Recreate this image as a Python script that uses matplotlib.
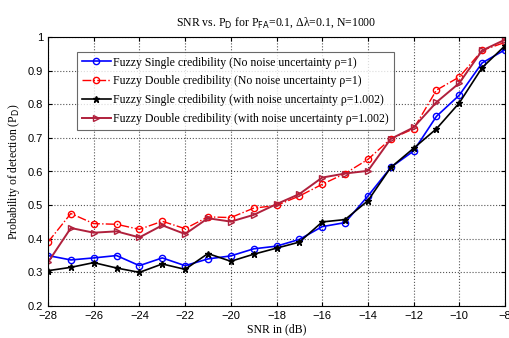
import numpy as np
import matplotlib
matplotlib.use("Agg")
import matplotlib.pyplot as plt

snr = list(range(-28, -7))

single_no_noise = [0.350, 0.337, 0.343, 0.350, 0.320, 0.343, 0.320, 0.340, 0.349, 0.370, 0.378,
                   0.398, 0.436, 0.448, 0.527, 0.612, 0.661, 0.764, 0.827, 0.923, 0.962]
double_no_noise = [0.390, 0.475, 0.445, 0.443, 0.428, 0.452, 0.430, 0.465, 0.463, 0.491, 0.499,
                   0.527, 0.562, 0.594, 0.636, 0.697, 0.727, 0.842, 0.881, 0.960, 0.984]
single_noise = [0.305, 0.315, 0.329, 0.313, 0.300, 0.325, 0.309, 0.356, 0.333, 0.354, 0.372,
                0.390, 0.450, 0.457, 0.513, 0.612, 0.669, 0.727, 0.804, 0.909, 0.974]
double_noise = [0.330, 0.432, 0.418, 0.422, 0.404, 0.440, 0.414, 0.461, 0.451, 0.471, 0.503,
                0.533, 0.582, 0.594, 0.602, 0.697, 0.731, 0.806, 0.863, 0.960, 0.992]

labels = ["Fuzzy Single credibility (No noise uncertainty \u03c1=1)",
          "Fuzzy Double credibility (No noise uncertainty \u03c1=1)",
          "Fuzzy Single credibility (with noise uncertainty \u03c1=1.002)",
          "Fuzzy Double credibility (with noise uncertainty \u03c1=1.002)"]

serif = ["Liberation Serif", "DejaVu Serif"]

fig = plt.figure(figsize=(5.10, 3.38), dpi=100)
ax = fig.add_axes([48 / 510, 1 - 306 / 338, 457 / 510, 269 / 338])

ax.plot(snr, single_no_noise, color="#0000ff", marker="o", mfc="none", ms=4.5, lw=1.2, label=labels[0])
ax.plot(snr, double_no_noise, color="#ff0000", ls="-.", marker="o", mfc="none", ms=4.5, lw=1.0, label=labels[1])
ax.plot(snr, single_noise, color="black", marker="*", ms=5, lw=1.2, label=labels[2])
ax.plot(snr, double_noise, color="#b0203c", marker=">", mfc="none", ms=5, lw=1.4, label=labels[3])

ax.set_xlim(-28, -8)
ax.set_ylim(0.2, 1.0)
ax.set_xticks(range(-28, -7, 2))
ax.set_yticks(np.arange(0.2, 1.01, 0.1))
ax.set_yticklabels(["0.2", "0.3", "0.4", "0.5", "0.6", "0.7", "0.8", "0.9", "1"])
ax.grid(True, ls=":", color="#555555", lw=0.8)
ax.tick_params(direction="in", labelsize=8, length=3, top=True, right=True)
for t in ax.get_xticklabels() + ax.get_yticklabels():
    t.set_family(["Liberation Sans", "DejaVu Sans"])

ax.set_title("SNR vs. P$_\\mathrm{D}$ for P$_\\mathrm{FA}$=0.1, \u0394\u03bb=0.1, N=1000",
             fontsize=8.5, family=serif, pad=8)
ax.set_xlabel("SNR in (dB)", fontsize=8.5, family=serif, labelpad=2)
ax.set_ylabel("Probability of detection (P$_\\mathrm{D}$)", fontsize=8.5, family=serif, labelpad=4)

leg = ax.legend(loc="upper left", bbox_to_anchor=(0.063, 0.945), prop={"family": serif, "size": 8.5},
                frameon=True, fancybox=False, edgecolor="#444444", borderpad=0.4, labelspacing=0.58,
                handlelength=2.5, handletextpad=0.2, borderaxespad=0)
leg.get_frame().set_linewidth(0.8)

fig.savefig("out.png", dpi=100)
